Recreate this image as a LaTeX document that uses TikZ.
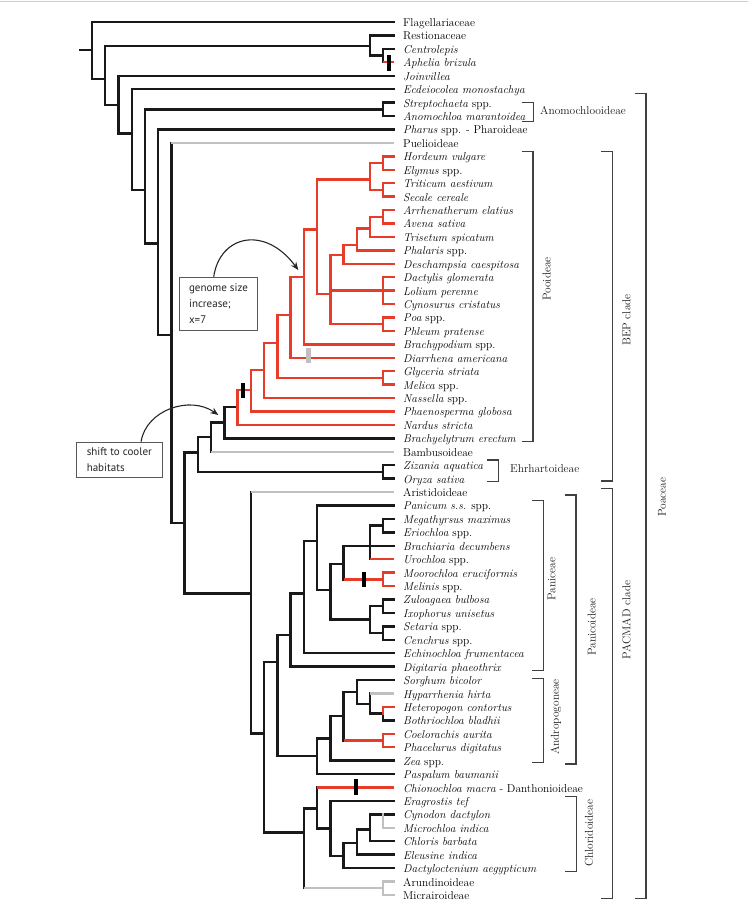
\documentclass[tikz,border=0pt]{standalone}
\usepackage{fontspec}
\newfontfamily\notefont{PT Sans}
\usetikzlibrary{arrows.meta}
\definecolor{treered}{RGB}{232,60,42}
\definecolor{treegray}{RGB}{192,192,192}
\newcommand\spn[1]{\textit{#1}}
\newcommand\leaffont{\fontsize{11.4}{13}\selectfont}
% internal node: name, depth level, y
\newcommand\nd[3]{\coordinate (#1) at ({92+13.24*(#2-1)},#3);}
% clade bracket: x, top, bottom
\newcommand\clade[3]{\draw[brk] ({#1-11.5},#2) -| (#1,#3) -- ({#1-11.5},#3);}
\tikzset{
  br/.style={line width=2.4pt, line cap=rect, draw=black!90},
  rbr/.style={br, draw=treered},
  gbr/.style={br, draw=treegray},
  rtip/.style={br, line cap=butt, draw=treered},
  gtip/.style={br, line cap=butt, draw=treegray},
  leaf/.style={anchor=base west, inner sep=0pt, font=\leaffont, text=black},
  brk/.style={line width=1.3pt, draw=black!75},
  grp/.style={inner sep=0pt, font=\leaffont, text=black!90},
  synbar/.style={fill=black, minimum width=4pt, minimum height=15.5pt, inner sep=0pt},
  note/.style={draw=black!65, line width=0.9pt, fill=white, align=left, inner sep=0pt,
    anchor=north west, font=\notefont\fontsize{11}{16}\selectfont, text=black!85}
}
\begin{document}
\begin{tikzpicture}[x=1pt,y=-1pt]
\useasboundingbox (0,0) rectangle (748,918);
\draw[black!20, line width=0.8pt] (0,1.5) -- (748,1.5);

% tips and taxa
\foreach \i in {1,...,66} \coordinate (l\i) at (394,{22+13.43*(\i-1)});
\foreach \txt [count=\i] in {Flagellariaceae, Restionaceae, \spn{Centrolepis}, \spn{Aphelia brizula},
  \spn{Joinvillea}, \spn{Ecdeiocolea monostachya}, \spn{Streptochaeta} spp., \spn{Anomochloa marantoidea},
  \spn{Pharus} spp. - Pharoideae, Puelioideae, \spn{Hordeum vulgare}, \spn{Elymus} spp.,
  \spn{Triticum aestivum}, \spn{Secale cereale}, \spn{Arrhenatherum elatius}, \spn{Avena sativa},
  \spn{Trisetum spicatum}, \spn{Phalaris} spp., \spn{Deschampsia caespitosa}, \spn{Dactylis glomerata},
  \spn{Lolium perenne}, \spn{Cynosurus cristatus}, \spn{Poa} spp., \spn{Phleum pratense},
  \spn{Brachypodium} spp., \spn{Diarrhena americana}, \spn{Glyceria striata}, \spn{Melica} spp.,
  \spn{Nassella} spp., \spn{Phaenosperma globosa}, \spn{Nardus stricta}, \spn{Brachyelytrum erectum},
  Bambusoideae, \spn{Zizania aquatica}, \spn{Oryza sativa}, Aristidoideae,
  \spn{Panicum s.s.} spp., \spn{Megathyrsus maximus}, \spn{Eriochloa} spp., \spn{Brachiaria decumbens},
  \spn{Urochloa} spp., \spn{Moorochloa eruciformis}, \spn{Melinis} spp., \spn{Zuloagaea bulbosa},
  \spn{Ixophorus unisetus}, \spn{Setaria} spp., \spn{Cenchrus} spp., \spn{Echinochloa frumentacea},
  \spn{Digitaria phaeothrix}, \spn{Sorghum bicolor}, \spn{Hyparrhenia hirta}, \spn{Heteropogon contortus},
  \spn{Bothriochloa bladhii}, \spn{Coelorachis aurita}, \spn{Phacelurus digitatus}, \spn{Zea} spp.,
  \spn{Paspalum baumanii}, \spn{Chionochloa macra} - Danthonioideae, \spn{Eragrostis tef},
  \spn{Cynodon dactylon}, \spn{Microchloa indica}, \spn{Chloris barbata}, \spn{Eleusine indica},
  \spn{Dactyloctenium aegypticum}, Arundinoideae, Micrairoideae}
  \node[leaf] (t\i) at (403,{26.5+13.43*(\i-1)}) {\txt};

% internal nodes
\coordinate (root) at (80,50);
\nd{n1}{1}{50} \nd{n2}{2}{79} \nd{nRC}{22}{45.7} \nd{nCA}{23}{55.6}
\nd{n3}{3}{105} \nd{n4}{4}{133.3} \nd{n5}{5}{190} \nd{nAn}{23}{109.3}
\nd{n6}{6}{243.3} \nd{n7}{7}{335} \nd{n8}{8}{522.7}
% BEP
\nd{nBEP}{9}{452.5} \nd{nEhr}{23}{471.9} \nd{nBOP}{10}{437} \nd{nPO}{11}{422.6}
\nd{nA}{12}{407} \nd{nB}{13}{390} \nd{nC}{14}{370} \nd{nD}{15}{342.7}
\nd{nE}{16}{315} \nd{nF}{17}{276.7} \nd{nG}{18}{229.3} \nd{nH}{22}{179.3}
\nd{nHE}{23}{163} \nd{nTS}{23}{189.9} \nd{nI}{19}{294} \nd{nDLC}{23}{290.6}
\nd{nPP}{23}{324.2} \nd{nJ}{20}{255} \nd{nK}{21}{245} \nd{nL}{22}{228.3}
\nd{nAA}{23}{216.7} \nd{nGM}{23}{377.9}
% PACMAD
\nd{nPAC}{13}{593.3} \nd{nP2}{14}{733.3} \nd{nPan}{15}{661.7} \nd{nPan0}{16}{635}
\nd{nPan1}{17}{593.3} \nd{nPc}{18}{540.7} \nd{nPc2}{19}{590} \nd{nPc3}{20}{564}
\nd{nUB}{22}{545.77} \nd{nME}{23}{525.6} \nd{nMM}{23}{579.3} \nd{nZS}{22}{619.3}
\nd{nZI}{23}{606.2} \nd{nSC}{23}{633.1} \nd{nAP}{18}{756} \nd{nAnd}{19}{738.3}
\nd{nA1}{20}{716} \nd{nA2}{21}{691.7} \nd{nA3}{22}{704} \nd{nHB}{23}{713.6}
\nd{nCP}{23}{740.5} \nd{nCh}{17}{832.3} \nd{nCD}{18}{808.3} \nd{nCl}{19}{828.3}
\nd{nC1}{20}{855.7} \nd{nC2}{21}{842.7} \nd{nC3}{22}{829.3} \nd{nCM}{23}{814.37}
\nd{nAM}{23}{888.2}

% black branches
\draw[br] (root) -- (n1);
\foreach \p/\c in {n1/l1, n1/n2, n2/nRC, n2/n3, nRC/l2, nRC/nCA, nCA/l3, n3/l5, n3/n4,
  n4/l6, n4/n5, n5/nAn, n5/n6, nAn/l7, nAn/l8, n6/l9, n6/n7, n7/n8, n8/nBEP, n8/nPAC,
  nBEP/nBOP, nBEP/nEhr, nEhr/l34, nEhr/l35, nBOP/nPO, nPO/nA, nPO/l32,
  nPAC/nP2, nP2/nPan, nP2/nCh, nPan/nPan0, nPan/nAP, nPan0/nPan1, nPan0/l49,
  nPan1/nPc, nPan1/l48, nPc/l37, nPc/nPc2, nPc2/nPc3, nPc2/nZS, nPc3/nUB, nUB/nME,
  nUB/l40, nME/l38, nME/l39, nZS/nZI, nZS/nSC, nZI/l44, nZI/l45, nSC/l46, nSC/l47,
  nAP/nAnd, nAP/l57, nAnd/nA1, nAnd/l56, nA1/nA2, nA2/l50, nA2/nA3, nA3/nHB, nHB/l53,
  nCh/nCD, nCD/nCl, nCl/l59, nCl/nC1, nC1/nC2, nC1/l64, nC2/nC3, nC2/l63, nC3/nCM,
  nC3/l62, nCM/l60}
  \draw[br] (\p) |- (\c);

% black stem, red tip
\foreach \p/\c in {nCA/l4, nUB/l41, nPc3/nMM, nA1/nCP, nCD/l58} {
  \draw[br] (\p) -- (\p |- \c);
  \draw[rtip] (\p |- \c) -- (\c);
}
% black stem, grey tip
\foreach \p/\c in {n7/l10, nBOP/l33, nPAC/l36, nA3/l51, nCh/nAM} {
  \draw[br] (\p) -- (\p |- \c);
  \draw[gtip] (\p |- \c) -- (\c);
}

% red branches
\foreach \p/\c in {nA/nB, nA/l31, nB/nC, nB/l30, nC/nD, nC/l29, nD/nE, nD/nGM, nGM/l27,
  nGM/l28, nE/nF, nE/l26, nF/nG, nF/l25, nG/nH, nG/nI, nH/nHE, nH/nTS, nHE/l11, nHE/l12,
  nTS/l13, nTS/l14, nI/nJ, nI/nDLC, nI/nPP, nDLC/l20, nDLC/l21, nDLC/l22, nPP/l23, nPP/l24,
  nJ/nK, nJ/l19, nK/nL, nK/l18, nL/nAA, nL/l17, nAA/l15, nAA/l16, nMM/l42, nMM/l43,
  nCP/l54, nCP/l55, nHB/l52}
  \draw[rbr] (\p) |- (\c);

% grey branches
\foreach \p/\c in {nCM/l61, nAM/l65, nAM/l66}
  \draw[gbr] (\p) |- (\c);

% character bars
\node[synbar] (bar1) at (389.3,62.9) {};
\node[synbar] (bar2) at (243.3,390.5) {};
\node[synbar, fill=treegray, minimum width=5pt] (bar3) at (308.3,355.7) {};
\node[synbar] (bar4) at (364,579.5) {};
\node[synbar] (bar5) at (356,786.8) {};

% clade brackets
\clade{533.3}{102.7}{121.7}
\node[grp, anchor=west] (anom) at (540,110) {Anomochlooideae};
\clade{498.3}{460}{481.7}
\node[grp, anchor=west] (ehrh) at (510,469) {Ehrhartoideae};
\clade{533}{151.7}{441.7}
\node[grp, rotate=90] (pooid) at (546.7,279) {Pooideae};
\clade{612.3}{151.7}{481}
\node[grp, rotate=90] (bep) at (626.5,320) {BEP clade};
\clade{646}{93.3}{898.3}
\node[grp, rotate=90] (poac) at (662,497) {Poaceae};
\clade{543.3}{500.7}{670.7}
\node[grp, rotate=90] (panic) at (551.5,579) {Paniceae};
\clade{576}{495}{764}
\node[grp, rotate=90] (panicoid) at (591.7,627) {Panicoideae};
\clade{612.3}{488.3}{898.3}
\node[grp, rotate=90] (pacmad) at (626.5,620) {PACMAD clade};
\clade{543.3}{678.3}{762.7}
\node[grp, rotate=90] (andro) at (556,717) {Andropogoneae};
\clade{576.7}{796.7}{871.7}
\node[grp, rotate=90] (chlor) at (589,833) {Chloridoideae};

% annotations
\node[note, minimum width=77.4pt, minimum height=53pt] (gbox) at (179.3,276.7)
  {genome size\\increase;\\x=7};
\node[note, minimum width=85.7pt, minimum height=35.6pt] (hbox) at (76,441.7)
  {shift to cooler\\habitats};
\coordinate (gtip) at (298.3,270);
\coordinate (htip) at (218.3,415);
\draw[-{Stealth[length=8pt,width=6.5pt]}, line width=1.1pt, black!85]
  (gbox.100) .. controls (220,235) and (265,225) .. (gtip);
\draw[-{Stealth[length=8pt,width=6.5pt]}, line width=1.1pt, black!85]
  (hbox.40) .. controls (146,410) and (190,395) .. (htip);
\end{tikzpicture}
\end{document}
